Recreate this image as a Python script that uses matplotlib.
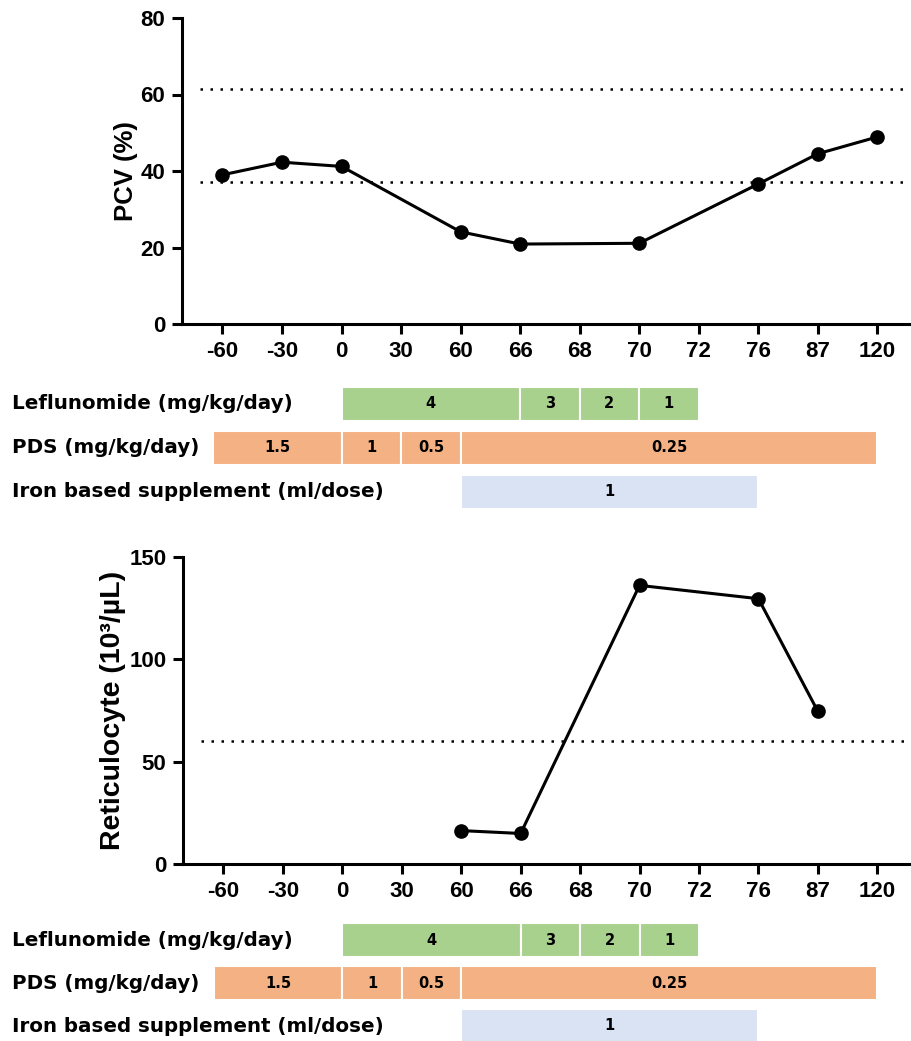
import matplotlib.pyplot as plt
from matplotlib.transforms import blended_transform_factory

# categorical time points (days)
days = ['-60', '-30', '0', '30', '60', '66', '68', '70', '72', '76', '87', '120']

pcv_days = ['-60', '-30', '0', '60', '66', '70', '76', '87', '120']
pcv = [39.0, 42.3, 41.2, 24.1, 20.9, 21.1, 36.6, 44.5, 48.9]
pcv_ref = [37.0, 61.5]

retic_days = ['60', '66', '70', '76', '87']
retic = [16.3, 14.9, 136.0, 129.5, 74.5]
retic_ref = [60.0]

# treatment segments: edges (days) and doses
lef_edges = ['0', '66', '68', '70', '72']
lef_doses = ['4', '3', '2', '1']
pds_edges = ['-60', '0', '30', '60', '120']
pds_doses = ['1.5', '1', '0.5', '0.25']
iron_edges = ['60', '76']
iron_doses = ['1']

W, H = 911, 1041
pos = {d: i for i, d in enumerate(days)}
XLIM = (-0.68, 11.55)
TICK_FONT = 'Liberation Sans'
BAR_FONT = ['Liberation Sans Narrow', 'DejaVu Sans Condensed', 'DejaVu Sans']

plt.rcParams['font.family'] = TICK_FONT
plt.rcParams['font.weight'] = 'bold'

fig = plt.figure(figsize=(W / 100, H / 100), dpi=100)


def px_axes(left, top, right, bottom):
    return fig.add_axes([left / W, 1 - bottom / H, (right - left) / W, (bottom - top) / H])


def draw_line(ax, xd, yd, refs, ylim, yticks, ylabel, label_x, label_size):
    for v in refs:
        ax.hlines(v, -0.37, XLIM[1], colors='black', linestyles=(0, (1, 3.0)), linewidth=1.8)
    x = [pos[d] for d in xd]
    ax.plot(x, yd, color='black', linewidth=2.2, marker='o', markersize=9.5, clip_on=False, zorder=3)
    ax.set_xlim(XLIM)
    ax.set_ylim(ylim)
    ax.set_xticks(range(len(days)))
    ax.set_xticklabels(days, fontsize=16, fontweight='bold')
    ax.set_yticks(yticks)
    ax.set_yticklabels([str(t) for t in yticks], fontsize=16, fontweight='bold')
    for s in ['top', 'right']:
        ax.spines[s].set_visible(False)
    for s in ['left', 'bottom']:
        ax.spines[s].set_linewidth(2.2)
    ax.tick_params(width=2.2, length=7, pad=5)
    ax.set_ylabel(ylabel, fontsize=label_size, fontweight='bold')
    ax.yaxis.set_label_coords(label_x, 0.5)


def draw_bars(ax):
    rows = [
        ('Leflunomide (mg/kg/day)', lef_edges, lef_doses, '#A9D18E'),
        ('PDS (mg/kg/day)', pds_edges, pds_doses, '#F4B183'),
        ('Iron based supplement (ml/dose)', iron_edges, iron_doses, '#DAE3F3'),
    ]
    tr = blended_transform_factory(fig.transFigure, ax.transData)
    for r, (name, edges, doses, color) in enumerate(rows):
        for k, (a, b, lab) in enumerate(zip(edges[:-1], edges[1:], doses)):
            x0, x1 = pos[a], pos[b]
            if name.startswith('PDS') and k == 0:
                x0 -= 0.16
            ax.barh(r, x1 - x0, left=x0, height=0.77, color=color,
                    edgecolor='white', linewidth=1.5)
            ax.text((x0 + x1) / 2, r, lab, ha='center', va='center',
                    fontsize=10.5, fontweight='bold', family=BAR_FONT)
        ax.text(12 / W, r, name, transform=tr, ha='left', va='center',
                fontsize=14.3, fontweight='bold', family=BAR_FONT)
    ax.set_xlim(XLIM)
    ax.set_ylim(2.5, -0.5)
    ax.axis('off')


ax1 = px_axes(182, 18, 910, 324)
draw_line(ax1, pcv_days, pcv, pcv_ref, (0, 80), [0, 20, 40, 60, 80], 'PCV (%)', -0.06, 18.5)
draw_bars(px_axes(182, 382, 910, 514))

ax2 = px_axes(183, 556.7, 910, 864)
draw_line(ax2, retic_days, retic, retic_ref, (0, 150), [0, 50, 100, 150],
          'Reticulocyte (10³/µL)', -0.079, 20.5)
draw_bars(px_axes(183, 918.5, 910, 1047.5))

fig.savefig('out.png', dpi=100)
